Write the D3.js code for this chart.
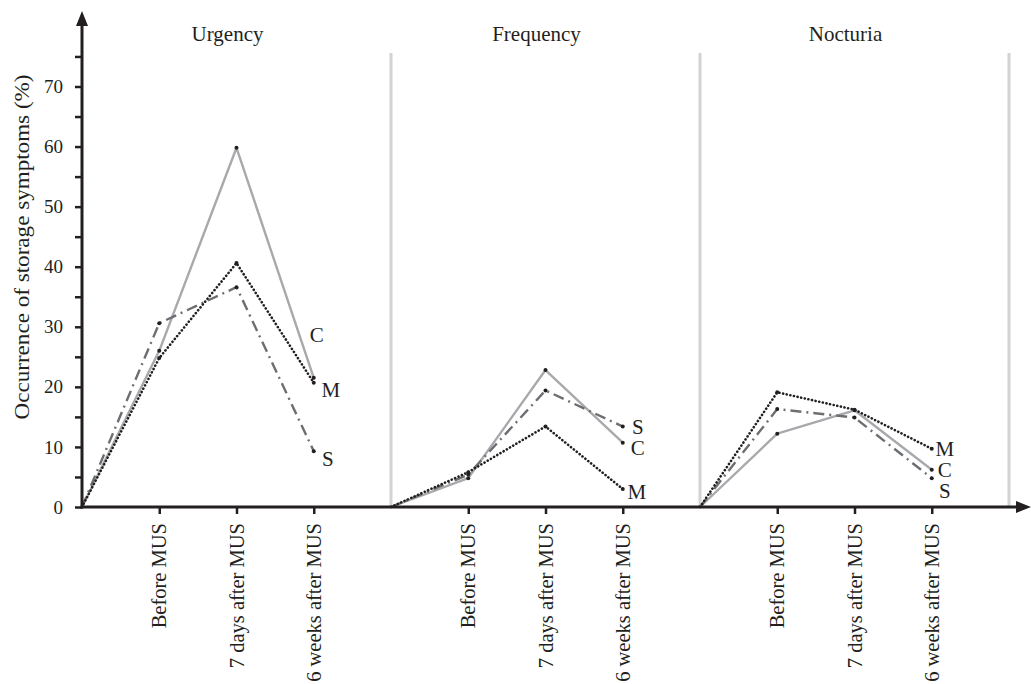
<!DOCTYPE html>
<html>
<head>
<meta charset="utf-8">
<script src="https://cdn.jsdelivr.net/npm/d3@7/dist/d3.min.js"></script>
<style>
  body { margin: 0; background: #fff; }
  text { font-family: "Liberation Serif", "DejaVu Serif", serif; fill: #231f20; }
</style>
</head>
<body>
<svg id="chart" width="1031" height="684"></svg>
<script>
// 数据
const panels = ["Urgency", "Frequency", "Nocturia"];
const timepoints = ["Before MUS", "7 days after MUS", "6 weeks after MUS"];
const seriesNames = ["C", "S", "M"];
const valuesC = [[26.0, 59.8, 21.5], [4.8, 22.8, 10.7], [12.2, 16.1, 6.2]];
const valuesM = [[24.8, 40.6, 20.7], [5.8, 13.4, 3.0], [19.1, 16.2, 9.7]];
const valuesS = [[30.6, 36.6, 9.3], [5.4, 19.4, 13.4], [16.3, 14.9, 4.8]];
const yTicks = [0, 5, 10, 15, 20, 25, 30, 35, 40, 45, 50, 55, 60, 65, 70, 75];

// 样式与标签位置
const styles = {
    C: { stroke: "#a7a9ac", width: 2.4, dash: null, cap: "butt" },
    S: { stroke: "#6d6e71", width: 2.4, dash: "11,5,2,5", cap: "butt" },
    M: { stroke: "#231f20", width: 2.6, dash: "0.1,3.6", cap: "round" }
};
// 每个面板末端标签的偏移 (px)
const labelOffset = [
    { C: [3, -43], M: [17, 7], S: [14, 8] },
    { C: [15, 5], M: [14, 3], S: [15, 0] },
    { C: [13, 0], M: [13, 0], S: [13, 12] }
];

const valuesBy = { C: valuesC, M: valuesM, S: valuesS };

const svg = d3.select("#chart");
const ink = "#231f20";

const x = d3.scaleLinear().domain([0, 12]).range([82, 1009]);
const y = d3.scaleLinear().domain([0, 70]).range([507, 86.5]);

// 面板分隔线
svg.append("g")
    .selectAll("line")
    .data([4, 8, 12])
    .enter().append("line")
    .attr("x1", d => x(d)).attr("x2", d => x(d))
    .attr("y1", 53).attr("y2", y(0))
    .attr("stroke", "#d1d3d4")
    .attr("stroke-width", 3);

// 面板标题
svg.append("g")
    .selectAll("text")
    .data(panels)
    .enter().append("text")
    .attr("x", (d, i) => x(i * 4 + 2) - 9)
    .attr("y", 41)
    .attr("text-anchor", "middle")
    .style("font-size", "21px")
    .text(d => d);

// 折线
const line = d3.line().x(d => x(d[0])).y(d => y(d[1]));

panels.forEach((p, pi) => {
    seriesNames.forEach(s => {
        const vals = valuesBy[s][pi];
        const pts = [[pi * 4, 0]].concat(vals.map((v, j) => [pi * 4 + j + 1, v]));
        const st = styles[s];
        svg.append("path")
            .datum(pts)
            .attr("d", line)
            .attr("fill", "none")
            .attr("stroke", st.stroke)
            .attr("stroke-width", st.width)
            .attr("stroke-linecap", st.cap)
            .attr("stroke-linejoin", "round")
            .attr("stroke-dasharray", st.dash);

        svg.append("g")
            .selectAll("circle")
            .data(pts.slice(1))
            .enter().append("circle")
            .attr("cx", d => x(d[0]))
            .attr("cy", d => y(d[1]))
            .attr("r", 2)
            .attr("fill", ink);

        const last = pts[pts.length - 1];
        const off = labelOffset[pi][s];
        svg.append("text")
            .attr("x", x(last[0]) + off[0])
            .attr("y", y(last[1]) + off[1])
            .attr("text-anchor", "middle")
            .attr("dy", "0.35em")
            .style("font-size", "21px")
            .text(s);
    });
});

// Y 轴
const yAxis = d3.axisLeft(y.copy().domain([0, 75]).range([507, 507 - 75 * (507 - 86.5) / 70]))
    .tickValues(yTicks)
    .tickSize(7)
    .tickPadding(12)
    .tickFormat(d => d % 10 === 0 ? d : "");

const gy = svg.append("g")
    .attr("transform", `translate(${x(0)},0)`)
    .call(yAxis);
gy.select(".domain").remove();
gy.selectAll(".tick line").attr("stroke", ink).attr("stroke-width", 2.5);
gy.selectAll(".tick text").style("font-size", "19px").attr("fill", ink)
    .style("font-family", '"Liberation Serif", serif');

svg.append("line")
    .attr("x1", x(0)).attr("x2", x(0))
    .attr("y1", 22).attr("y2", y(0) + 1.5)
    .attr("stroke", ink).attr("stroke-width", 3);
svg.append("path")
    .attr("d", `M${x(0) - 6},26 L${x(0)},11 L${x(0) + 6},26 Z`)
    .attr("fill", ink);

// X 轴
const catPos = [];
panels.forEach((p, pi) => timepoints.forEach((t, j) => catPos.push({ v: pi * 4 + j + 1, label: t })));

const gx = svg.append("g")
    .attr("transform", `translate(0,${y(0)})`)
    .call(d3.axisBottom(x).tickValues(catPos.map(d => d.v)).tickSize(7).tickFormat(""));
gx.select(".domain").remove();
gx.selectAll(".tick line").attr("stroke", ink).attr("stroke-width", 2.5);

svg.append("line")
    .attr("x1", x(0) - 1.5).attr("x2", 1020)
    .attr("y1", y(0)).attr("y2", y(0))
    .attr("stroke", ink).attr("stroke-width", 3);
svg.append("path")
    .attr("d", `M1016,${y(0) - 6} L1031,${y(0)} L1016,${y(0) + 6} Z`)
    .attr("fill", ink);

svg.append("g")
    .selectAll("text")
    .data(catPos)
    .enter().append("text")
    .attr("transform", d => `translate(${x(d.v) + 7},${y(0) + 16}) rotate(-90)`)
    .attr("text-anchor", "end")
    .style("font-size", "20.5px")
    .text(d => d.label);

// Y 轴标题
svg.append("text")
    .attr("transform", `translate(29,247) rotate(-90)`)
    .attr("text-anchor", "middle")
    .style("font-size", "21px")
    .attr("textLength", 345)
    .attr("lengthAdjust", "spacingAndGlyphs")
    .text("Occurrence of storage symptoms (%)");
</script>
</body>
</html>
